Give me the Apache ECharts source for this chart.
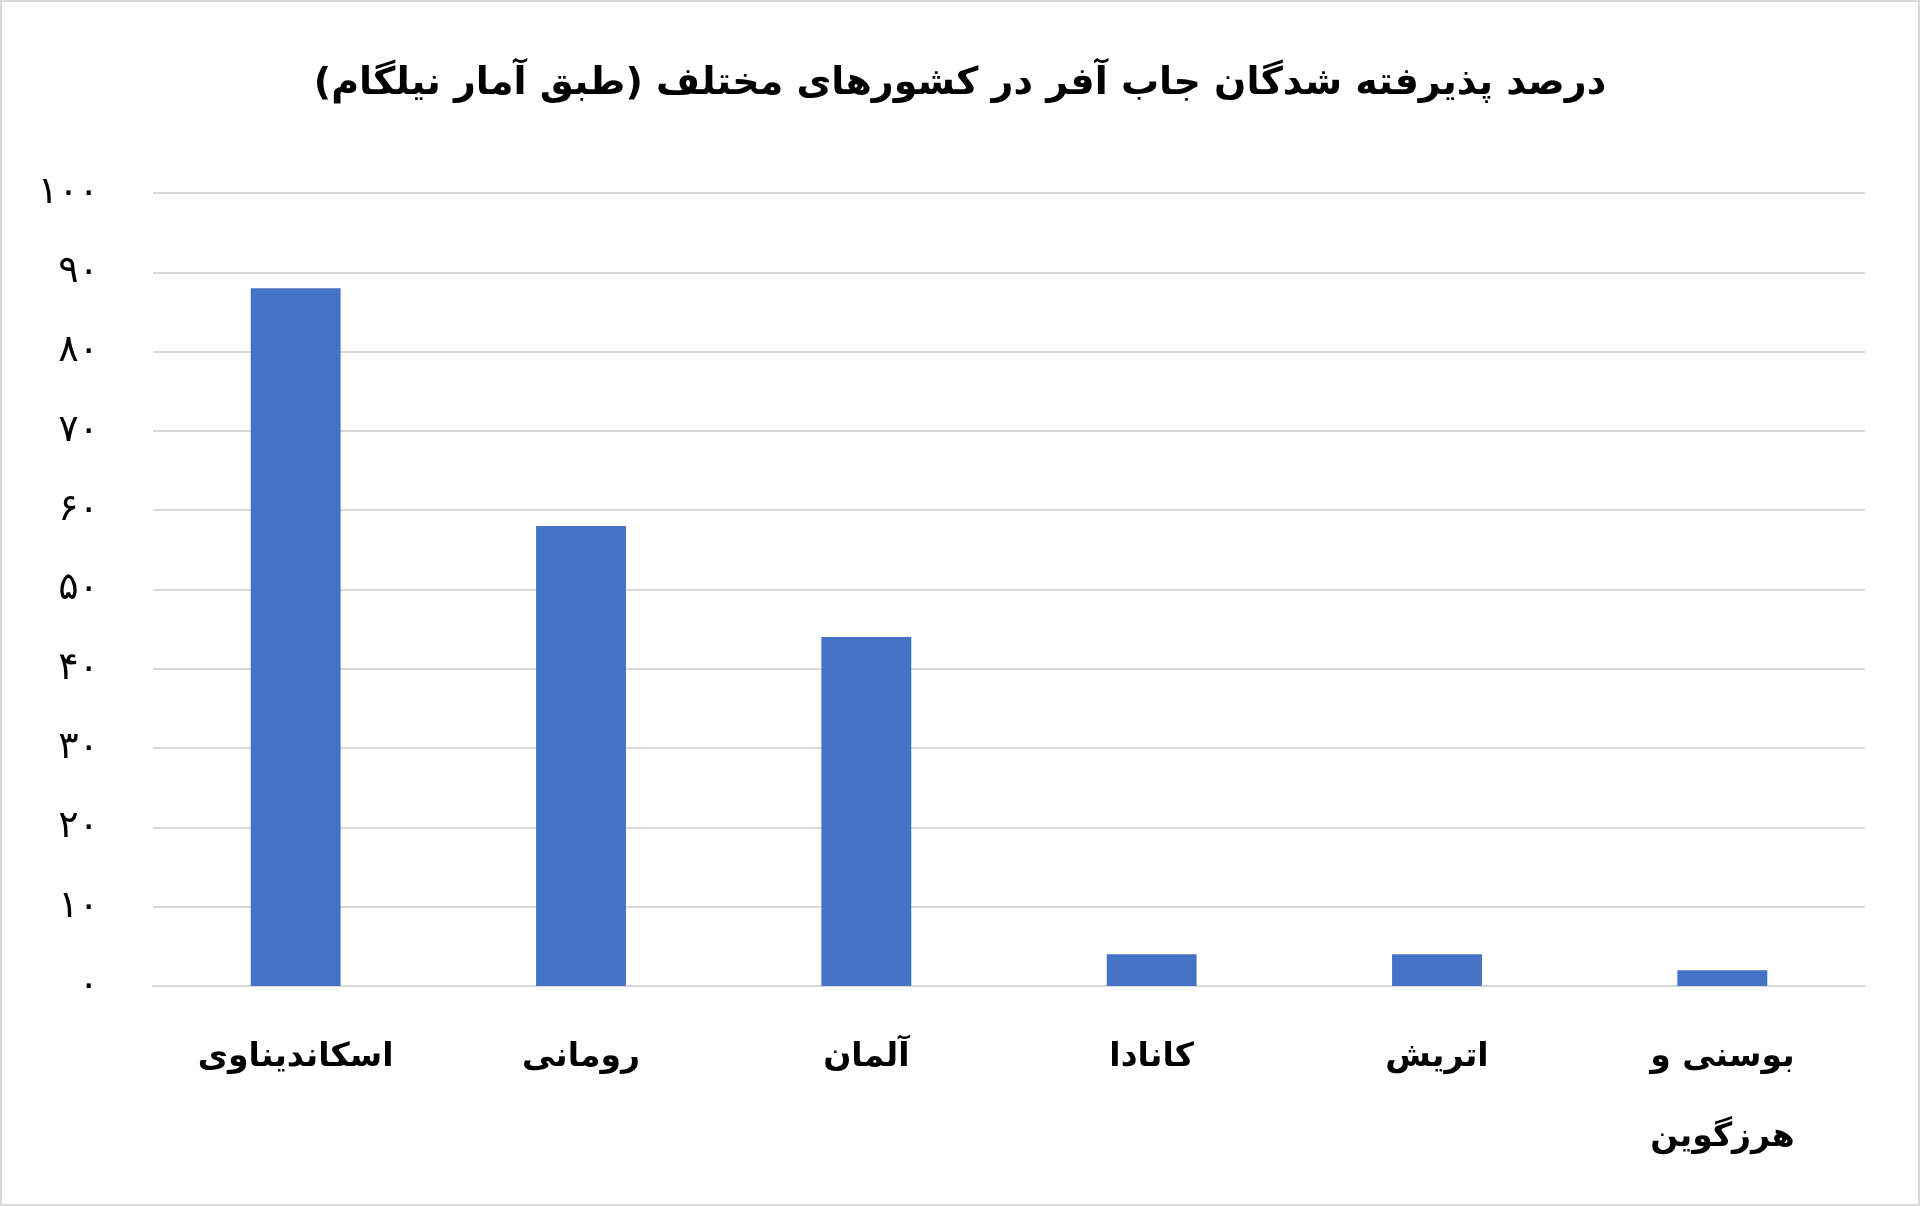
<!DOCTYPE html>
<html>
<head>
<meta charset="utf-8">
<script src="https://cdn.jsdelivr.net/npm/echarts@6/dist/echarts.min.js"></script>
<style>
html,body{margin:0;padding:0;background:#fff;}
#frame{position:absolute;left:0;top:0;width:1916px;height:1202px;border:2px solid #d9d9d9;}
#chart{width:1916px;height:1202px;}
</style>
</head>
<body>
<div id="frame"><div id="chart"></div></div>
<script>
const titleText = 'درصد پذیرفته شدگان جاب آفر در کشورهای مختلف (طبق آمار نیلگام)';
const categories = ['اسکاندیناوی', 'رومانی', 'آلمان', 'کانادا', 'اتریش', 'بوسنی و\nهرزگوین'];
const values = [88, 58, 44, 4, 4, 2];
const tickLabels = ['۰', '۱۰', '۲۰', '۳۰', '۴۰', '۵۰', '۶۰', '۷۰', '۸۰', '۹۰', '۱۰۰'];

const chart = echarts.init(document.getElementById('chart'));
chart.setOption({
  backgroundColor: '#fff',
  title: {
    text: titleText,
    left: 'center',
    top: 58,
    textStyle: { fontFamily: 'DejaVu Sans', fontSize: 38, fontWeight: 'bold', color: '#000' }
  },
  grid: { left: 151, right: 53, top: 191, bottom: 218 },
  xAxis: {
    type: 'category',
    data: categories,
    axisLine: { show: true, lineStyle: { color: '#d9d9d9', width: 2 } },
    axisTick: { show: false },
    axisLabel: {
      margin: 31,
      fontFamily: 'DejaVu Sans',
      fontSize: 33,
      fontWeight: 'bold',
      color: '#000',
      lineHeight: 80,
      interval: 0
    }
  },
  yAxis: {
    type: 'value',
    min: 0,
    max: 100,
    interval: 10,
    axisLine: { show: false },
    axisTick: { show: false },
    splitLine: { lineStyle: { color: '#d9d9d9', width: 2 } },
    axisLabel: {
      margin: 54,
      fontFamily: 'DejaVu Sans',
      fontSize: 38,
      color: '#000',
      formatter: function (v) { return tickLabels[Math.round(v / 10)]; }
    }
  },
  series: [{
    type: 'bar',
    data: values,
    barWidth: '31.5%',
    itemStyle: { color: '#4472C4' }
  }]
});
</script>
</body>
</html>
